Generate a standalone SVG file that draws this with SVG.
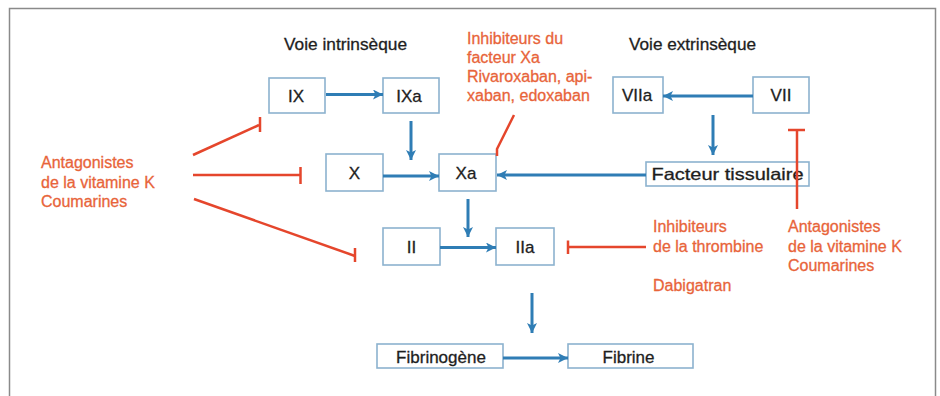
<svg xmlns="http://www.w3.org/2000/svg" width="940" height="396" viewBox="0 0 940 396">
<style>
  .box{fill:#fff;stroke:#8cb2cf;stroke-width:1.6}
  .lbl{font-family:"Liberation Sans",Arial,sans-serif;font-size:17px;fill:#1e1e1e;stroke:#1e1e1e;stroke-width:0.3;text-anchor:middle}
  .head{font-family:"Liberation Sans",Arial,sans-serif;font-size:17px;fill:#1e1e1e;stroke:#1e1e1e;stroke-width:0.3}
  .red{font-family:"Liberation Sans",Arial,sans-serif;font-size:16px;fill:#e8643a;stroke:#e8643a;stroke-width:0.3}
  .arr{stroke:#2f7db5;stroke-width:3;fill:none;marker-end:url(#ah)}
  .inh{stroke:#e5462c;stroke-width:2.5;fill:none}
</style>
<defs>
  <marker id="ah" markerUnits="userSpaceOnUse" markerWidth="12" markerHeight="12" refX="10" refY="5" orient="auto">
    <path d="M0,0 L10,5 L0,10 L2.5,5 Z" fill="#2f7db5"/>
  </marker>
</defs>
<rect width="940" height="396" fill="#fff"/>
<path d="M9.5,396 V8.5 H935.5 V396" fill="none" stroke="#8a8a8a" stroke-width="1.5"/>

<text class="head" x="284" y="50" textLength="123" lengthAdjust="spacingAndGlyphs">Voie intrinsèque</text>
<text class="head" x="629" y="50" textLength="127" lengthAdjust="spacingAndGlyphs">Voie extrinsèque</text>

<g id="n-IX"><rect class="box" x="269" y="78" width="56" height="35"/><text class="lbl" x="296" y="101.5">IX</text></g>
<g id="n-IXa"><rect class="box" x="383" y="78" width="56" height="35"/><text class="lbl" x="409" y="101.5">IXa</text></g>
<g id="n-X"><rect class="box" x="326" y="154" width="57" height="37"/><text class="lbl" x="354.5" y="179">X</text></g>
<g id="n-Xa"><rect class="box" x="439" y="154" width="57" height="37"/><text class="lbl" x="466" y="179">Xa</text></g>
<g id="n-VIIa"><rect class="box" x="613" y="77" width="50" height="36"/><text class="lbl" x="637" y="101">VIIa</text></g>
<g id="n-VII"><rect class="box" x="753" y="77" width="56" height="36"/><text class="lbl" x="781" y="101">VII</text></g>
<g id="n-FT"><rect class="box" x="646" y="162" width="163" height="24"/><text class="lbl" x="727.5" y="180" style="font-size:16.5px" textLength="152" lengthAdjust="spacingAndGlyphs">Facteur tissulaire</text></g>
<g id="n-II"><rect class="box" x="383" y="228" width="57" height="37"/><text class="lbl" x="411.5" y="252.5">II</text></g>
<g id="n-IIa"><rect class="box" x="496" y="228" width="58" height="37"/><text class="lbl" x="525" y="252.5">IIa</text></g>
<g id="n-Fibrinogene"><rect class="box" x="377" y="344" width="126" height="24"/><text class="lbl" x="441" y="362.5">Fibrinogène</text></g>
<g id="n-Fibrine"><rect class="box" x="568" y="344" width="125" height="24"/><text class="lbl" x="628.5" y="362.5">Fibrine</text></g>

<g id="t-avk-left">
  <text class="red" x="41" y="168">Antagonistes</text>
  <text class="red" x="41" y="187.5">de la vitamine K</text>
  <text class="red" x="41" y="206.5">Coumarines</text>
</g>
<g id="t-avk-right">
  <text class="red" x="788" y="232">Antagonistes</text>
  <text class="red" x="788" y="251.5">de la vitamine K</text>
  <text class="red" x="788" y="271">Coumarines</text>
</g>
<g id="t-xa-inh">
  <text class="red" x="467" y="44">Inhibiteurs du</text>
  <text class="red" x="467" y="63">facteur Xa</text>
  <text class="red" x="467" y="82">Rivaroxaban, api-</text>
  <text class="red" x="467" y="101">xaban, edoxaban</text>
</g>
<g id="t-thrombine">
  <text class="red" x="653" y="232">Inhibiteurs</text>
  <text class="red" x="653" y="251.5">de la thrombine</text>
  <text class="red" x="653" y="291">Dabigatran</text>
</g>

<g id="connectors">
  <line class="arr" x1="326" y1="94.5" x2="383" y2="94.5"/>
  <line class="arr" x1="411" y1="121" x2="411" y2="160"/>
  <line class="arr" x1="383" y1="176" x2="439" y2="176"/>
  <line class="arr" x1="646" y1="175" x2="497" y2="175"/>
  <line class="arr" x1="753" y1="96" x2="663" y2="96"/>
  <line class="arr" x1="713" y1="115" x2="713" y2="155"/>
  <line class="arr" x1="468" y1="199" x2="468" y2="237"/>
  <line class="arr" x1="440" y1="247.5" x2="496" y2="247.5"/>
  <line class="arr" x1="532" y1="293" x2="532" y2="333"/>
  <line class="arr" x1="503" y1="358" x2="568" y2="358"/>

  <line class="inh" x1="193" y1="155" x2="259" y2="125"/>
  <line class="inh" x1="260" y1="117" x2="260" y2="132"/>
  <line class="inh" x1="193" y1="175" x2="300" y2="175"/>
  <line class="inh" x1="300.5" y1="167" x2="300.5" y2="184"/>
  <line class="inh" x1="194" y1="199" x2="355" y2="256"/>
  <line class="inh" x1="355" y1="248" x2="355" y2="262"/>
  <line class="inh" x1="646" y1="247" x2="568" y2="247"/>
  <line class="inh" x1="568" y1="240.5" x2="568" y2="254"/>
  <line class="inh" x1="797" y1="209" x2="797" y2="130"/>
  <line class="inh" x1="788" y1="130" x2="805" y2="130"/>
  <polyline class="inh" points="514,115 497,149 497,156"/>
</g>
</svg>
